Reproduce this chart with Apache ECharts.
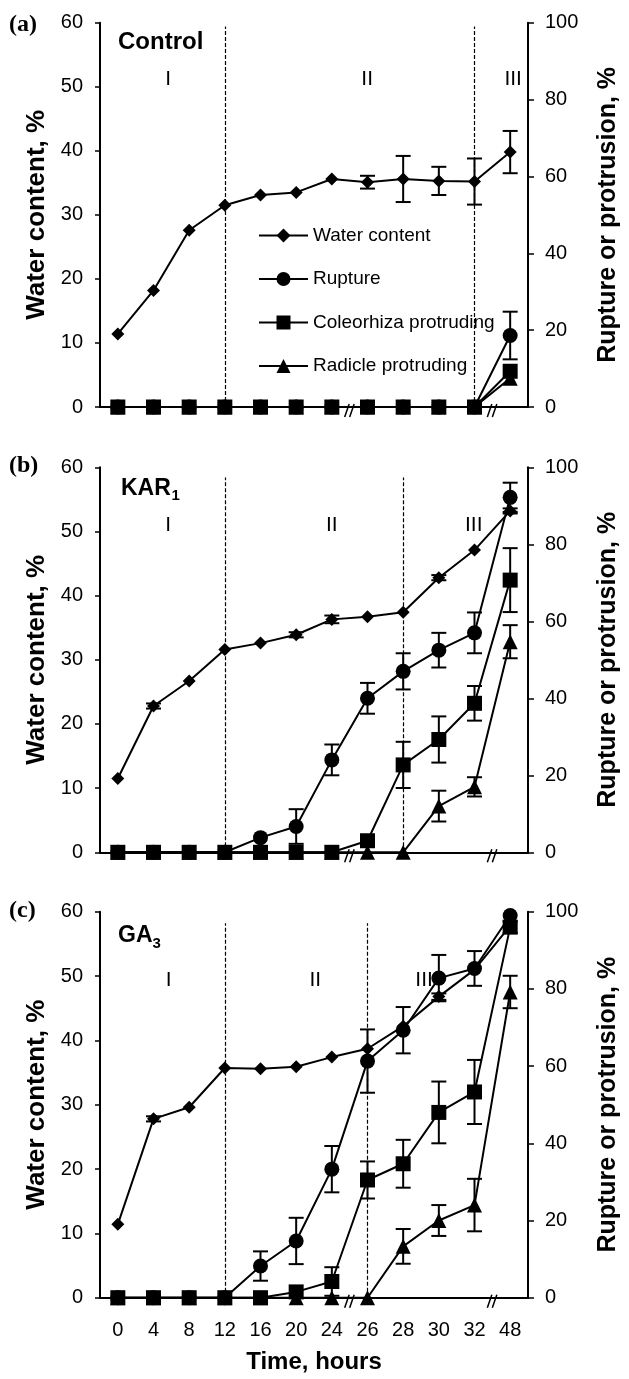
<!DOCTYPE html>
<html>
<head>
<meta charset="utf-8">
<script src="https://cdn.jsdelivr.net/npm/echarts@6/dist/echarts.min.js"></script>
<style>
  html, body { margin: 0; padding: 0; background: #fff; }
  #chart { width: 629px; height: 1379px; }
</style>
</head>
<body>
<div id="chart"></div>
<script>
// time points (category axis, hours)
const hours = ['0', '4', '8', '12', '16', '20', '24', '26', '28', '30', '32', '48'];

// (a) Control -- water content on left axis (%), the rest on right axis (%)
const waterA = [11.4, 18.2, 27.6, 31.5, 33.1, 33.5, 35.6, 35.1, 35.6, 35.3, 35.2, 39.8];
const waterAErr = [0, 0, 0, 0, 0, 0, 0, 1.0, 3.6, 2.2, 3.6, 3.3];
const ruptureA = [0, 0, 0, 0, 0, 0, 0, 0, 0, 0, 0, 18.6];
const ruptureAErr = [0, 0, 0, 0, 0, 0, 0, 0, 0, 0, 0, 6.2];
const coleoA = [0, 0, 0, 0, 0, 0, 0, 0, 0, 0, 0, 9.3];
const coleoAErr = [0, 0, 0, 0, 0, 0, 0, 0, 0, 0, 0, 0];
const radicleA = [0, 0, 0, 0, 0, 0, 0, 0, 0, 0, 0, 7.5];
const radicleAErr = [0, 0, 0, 0, 0, 0, 0, 0, 0, 0, 0, 0];

// (b) KAR1
const waterB = [11.5, 22.8, 26.7, 31.6, 32.6, 33.9, 36.3, 36.7, 37.4, 42.8, 47.1, 53.2];
const waterBErr = [0, 0.4, 0, 0, 0, 0.4, 0.6, 0, 0, 0.4, 0, 0.4];
const ruptureB = [0, 0, 0, 0, 3.8, 6.7, 24, 40, 47, 52.5, 57, 92.2];
const ruptureBErr = [0, 0, 0, 0, 0, 4.5, 4, 4, 4.7, 4.5, 5.3, 3.8];
const coleoB = [0, 0, 0, 0, 0, 0, 0, 3, 22.7, 29.3, 38.7, 70.7];
const coleoBErr = [0, 0, 0, 0, 0, 0, 0, 0, 6, 6, 4.5, 8.3];
const radicleB = [0, 0, 0, 0, 0, 0, 0, 0, 0, 12, 17, 54.7];
const radicleBErr = [0, 0, 0, 0, 0, 0, 0, 0, 0, 4, 2.5, 4.3];

// (c) GA3
const waterC = [11.4, 27.8, 29.6, 35.7, 35.6, 35.9, 37.4, 38.7, 42.2, 46.8, 51.0, 57.8];
const waterCErr = [0, 0.4, 0, 0, 0, 0, 0, 0, 0, 0.5, 0, 0];
const ruptureC = [0, 0, 0, 0, 8.2, 14.7, 33.3, 61.3, 69.3, 82.8, 85.3, 99];
const ruptureCErr = [0, 0, 0, 0, 3.8, 6, 6, 8.2, 6, 6, 4.5, 0];
const coleoC = [0, 0, 0, 0, 0, 1.5, 4.2, 30.5, 34.7, 48, 53.3, 96];
const coleoCErr = [0, 0, 0, 0, 0, 0, 3.7, 4.8, 6.2, 8, 8.3, 1.5];
const radicleC = [0, 0, 0, 0, 0, 0, 0, 0, 13.3, 20, 24, 79.2];
const radicleCErr = [0, 0, 0, 0, 0, 0, 0, 0, 4.5, 4, 6.8, 4.2];

// phase boundaries (dashed lines) and axis breaks (after these categories)
const phaseLinesA = ['12', '32'];
const phaseLinesB = ['12', '28'];
const phaseLinesC = ['12', '26'];
const axisBreaks = [6, 10];

const FONT = 'Liberation Sans, Arial, sans-serif';
const SERIF = 'Liberation Serif, Times New Roman, serif';
const GRID_LEFT = 100, GRID_W = 438;
const tops = [22.7, 467.3, 911.7];
const heights = [384.3, 385, 386];

const panels = [
  { water: waterA, wErr: waterAErr, rup: ruptureA, rErr: ruptureAErr, col: coleoA, cErr: coleoAErr, rad: radicleA, dErr: radicleAErr, lines: phaseLinesA, lineTop: 59.4 },
  { water: waterB, wErr: waterBErr, rup: ruptureB, rErr: ruptureBErr, col: coleoB, cErr: coleoBErr, rad: radicleB, dErr: radicleBErr, lines: phaseLinesB, lineTop: 58.4 },
  { water: waterC, wErr: waterCErr, rup: ruptureC, rErr: ruptureCErr, col: coleoC, cErr: coleoCErr, rad: radicleC, dErr: radicleCErr, lines: phaseLinesC, lineTop: 58.2 }
];

let chart = echarts.init(document.getElementById('chart'), null, { renderer: 'canvas' });

function errBars(p, yIdx, vals, errs) {
  return {
    type: 'custom',
    xAxisIndex: p,
    yAxisIndex: yIdx,
    silent: true,
    clip: false,
    z: 3,
    encode: { x: 0, y: 1 },
    data: vals.map((v, i) => [i, v, errs[i]]).filter(d => d[2] > 0),
    renderItem: function (params, api) {
      const x = api.value(0), v = api.value(1), e = api.value(2);
      const hi = api.coord([x, v + e]);
      const lo = api.coord([x, Math.max(0, v - e)]);
      const w = 7.5;
      const st = { stroke: '#000', lineWidth: 2 };
      const kids = [
        { type: 'line', shape: { x1: hi[0], y1: hi[1], x2: lo[0], y2: lo[1] }, style: st },
        { type: 'line', shape: { x1: hi[0] - w, y1: hi[1], x2: hi[0] + w, y2: hi[1] }, style: st }
      ];
      if (v - e > 0) {
        kids.push({ type: 'line', shape: { x1: lo[0] - w, y1: lo[1], x2: lo[0] + w, y2: lo[1] }, style: st });
      }
      return { type: 'group', children: kids };
    }
  };
}

function lineSeries(name, p, yIdx, vals, symbol, size) {
  return {
    name: name,
    type: 'line',
    xAxisIndex: p,
    yAxisIndex: yIdx,
    data: vals,
    symbol: symbol,
    symbolSize: size,
    showAllSymbol: true,
    z: 4,
    lineStyle: { color: '#000', width: 2 },
    itemStyle: { color: '#000', borderWidth: 0 },
    emphasis: { disabled: true }
  };
}

let grid = [], xAxis = [], yAxis = [], series = [];

panels.forEach((pd, p) => {
  grid.push({ left: GRID_LEFT, width: GRID_W, top: tops[p], height: heights[p] });
  xAxis.push({
    type: 'category',
    gridIndex: p,
    data: hours,
    boundaryGap: true,
    axisLine: { lineStyle: { color: '#000', width: 2 } },
    axisTick: { alignWithLabel: true, length: 5, lineStyle: { color: '#000', width: 1.5 } },
    axisLabel: { show: p === 2, color: '#000', fontSize: 20, fontFamily: FONT, margin: 23 },
    splitLine: { show: false },
    name: p === 2 ? 'Time, hours' : '',
    nameLocation: 'middle',
    nameGap: 53,
    nameTextStyle: { color: '#000', fontSize: 24, fontWeight: 'bold', fontFamily: FONT }
  });
  yAxis.push({
    type: 'value',
    gridIndex: p,
    position: 'left',
    min: 0, max: 60, interval: 10,
    axisLine: { show: true, lineStyle: { color: '#000', width: 2 } },
    axisTick: { show: true, length: 5, lineStyle: { color: '#000', width: 1.5 } },
    axisLabel: { color: '#000', fontSize: 20, fontFamily: FONT, margin: 17 },
    splitLine: { show: false },
    name: 'Water content, %',
    nameLocation: 'middle',
    nameRotate: 90,
    nameGap: 48,
    nameTextStyle: { color: '#000', fontSize: 26, fontWeight: 'bold', fontFamily: FONT }
  });
  yAxis.push({
    type: 'value',
    gridIndex: p,
    position: 'right',
    min: 0, max: 100, interval: 20,
    axisLine: { show: true, lineStyle: { color: '#000', width: 2 } },
    axisTick: { show: true, length: 6, lineStyle: { color: '#000', width: 1.5 } },
    axisLabel: { color: '#000', fontSize: 20, fontFamily: FONT, margin: 17 },
    splitLine: { show: false },
    name: 'Rupture or protrusion, %',
    nameLocation: 'middle',
    nameRotate: 90,
    nameGap: 68,
    nameTextStyle: { color: '#000', fontSize: 25, fontWeight: 'bold', fontFamily: FONT }
  });

  const yl = 2 * p, yr = 2 * p + 1;

  series.push(errBars(p, yl, pd.water, pd.wErr));
  series.push(errBars(p, yr, pd.rup, pd.rErr));
  series.push(errBars(p, yr, pd.col, pd.cErr));
  series.push(errBars(p, yr, pd.rad, pd.dErr));

  const w = lineSeries('Water content', p, yl, pd.water, 'diamond', 13);
  w.markLine = {
    silent: true,
    symbol: 'none',
    label: { show: false },
    lineStyle: { color: '#000', width: 1.2, type: [4, 2] },
    data: pd.lines.map(h => [{ coord: [h, 0] }, { coord: [h, pd.lineTop] }])
  };
  series.push(w);
  series.push(lineSeries('Rupture', p, yr, pd.rup, 'circle', 15));
  series.push(lineSeries('Coleorhiza protruding', p, yr, pd.col, 'rect', 15));
  series.push(lineSeries('Radicle protruding', p, yr, pd.rad, 'triangle', 15));

  // "//" axis breaks
  series.push({
    type: 'custom',
    xAxisIndex: p,
    yAxisIndex: yl,
    silent: true,
    clip: false,
    z: 5,
    data: axisBreaks.map(i => [i, 0]),
    renderItem: function (params, api) {
      const pt = api.coord([api.value(0), 0]);
      const band = api.size([1, 0])[0];
      const cx = pt[0] + band / 2;
      const st = { stroke: '#000', lineWidth: 1.5 };
      return {
        type: 'group',
        children: [-2.5, 2.5].map(o => ({
          type: 'line',
          shape: { x1: cx + o - 2.5, y1: pt[1] + 10, x2: cx + o + 2, y2: pt[1] - 3 },
          style: st
        }))
      };
    }
  });
});

const band = GRID_W / hours.length;
function px(pos) { return GRID_LEFT + band * (pos + 0.5); }
function py(p, v) { return tops[p] + heights[p] * (1 - v / 60); }

function txt(x, y, text, size, weight, family, align) {
  return {
    type: 'text', x: x, y: y, silent: true,
    style: {
      text: text, fill: '#000', fontSize: size, fontWeight: weight || 'normal',
      fontFamily: family || FONT, align: align || 'center', verticalAlign: 'middle'
    }
  };
}

const graphic = [
  // panel letters
  txt(9, tops[0] + 2, '(a)', 24, 'bold', SERIF, 'left'),
  txt(9, tops[1] - 2, '(b)', 24, 'bold', SERIF, 'left'),
  txt(9, tops[2] - 1, '(c)', 24, 'bold', SERIF, 'left'),
  // treatment names
  txt(118, tops[0] + 20, 'Control', 24, 'bold', FONT, 'left'),
  txt(121, tops[1] + 21, 'KAR', 23, 'bold', FONT, 'left'),
  txt(171.5, tops[1] + 29, '1', 15, 'bold', FONT, 'left'),
  txt(118, tops[2] + 24, 'GA', 23, 'bold', FONT, 'left'),
  txt(152.5, tops[2] + 32, '3', 15, 'bold', FONT, 'left'),
  // phase numerals
  txt(px(1.37), py(0, 51.2), 'I', 21), txt(px(6.82), py(0, 51.2), 'II', 21), txt(px(10.82), py(0, 51.2), 'III', 21),
  txt(px(1.37), py(1, 51), 'I', 21), txt(px(5.85), py(1, 51), 'II', 21), txt(px(9.74), py(1, 51), 'III', 21),
  txt(px(1.38), py(2, 49.4), 'I', 21), txt(px(5.4), py(2, 49.4), 'II', 21), txt(px(8.38), py(2, 49.4), 'III', 21)
];

chart.setOption({
  animation: false,
  backgroundColor: '#fff',
  textStyle: { fontFamily: FONT },
  grid: grid,
  xAxis: xAxis,
  yAxis: yAxis,
  legend: {
    data: ['Water content', 'Rupture', 'Coleorhiza protruding', 'Radicle protruding'],
    orient: 'vertical',
    left: 253,
    top: 221,
    itemWidth: 49,
    itemHeight: 17.5,
    itemGap: 24.5,
    selectedMode: false,
    textStyle: { color: '#000', fontSize: 19, fontFamily: FONT }
  },
  series: series,
  graphic: graphic
});
</script>
</body>
</html>
